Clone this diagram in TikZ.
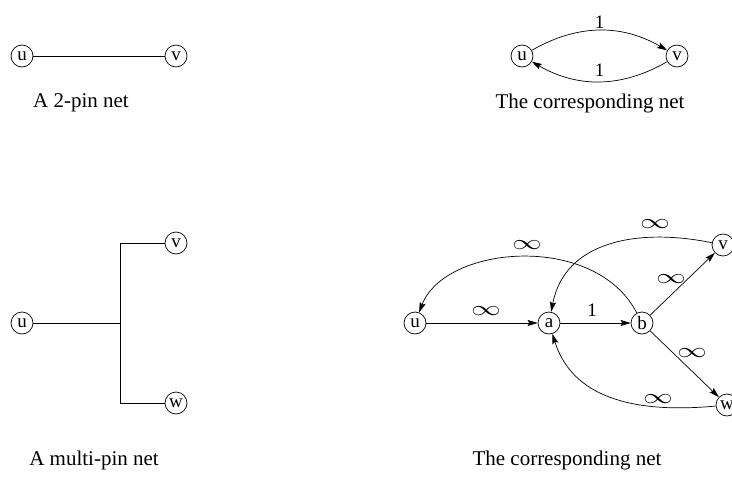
\documentclass[tikz,border=0pt]{standalone}
\usepackage{fontspec}
\setmainfont{Liberation Serif}
\usetikzlibrary{arrows.meta}
\begin{document}
\begin{tikzpicture}[x=1pt,y=-1pt,
  pin/.style={circle,draw,line width=0.7pt,minimum size=22pt,inner sep=0pt,font=\fontsize{19}{19}\selectfont},
  wire/.style={line width=0.7pt},
  edgearr/.style={line width=0.7pt,-{Stealth[length=10pt,width=6pt,inset=1.5pt]}},
  captxt/.style={font=\fontsize{21}{21}\selectfont},
  lbl/.style={font=\fontsize{19}{19}\selectfont,inner sep=2pt},
  inf/.style={inner sep=1pt}]
\useasboundingbox (0,0) rectangle (732,477);
\clip (0,0) rectangle (732,477);
\newcommand{\infsym}{\scalebox{1.7}[1.2]{\fontsize{17}{17}\selectfont$\infty$}}
% top left
\node[pin] (u1) at (22,56) {u};
\node[pin] (v1) at (176,56) {v};
\draw[wire] (u1) -- (v1);
\node[captxt] (c1) at (81,103) {A 2-pin net};
% top right
\node[pin] (u2) at (522,56) {u};
\node[pin] (v2) at (677,56) {v};
\draw[edgearr] (u2) to[out=30,in=150] node[lbl,above] {1} (v2);
\draw[edgearr] (v2) to[out=-150,in=-30] node[lbl,above=3pt] {1} (u2);
\node[captxt] (c2) at (590,103) {The corresponding net};
% bottom left
\node[pin] (u3) at (22,323) {u};
\node[pin] (v3) at (176,243) {v};
\node[pin] (w3) at (176,403) {w};
\coordinate (j) at (120,323);
\coordinate (jv) at (120,243);
\coordinate (jw) at (120,403);
\draw[wire] (u3) -- (j);
\draw[wire] (v3) -- (jv) -- (jw) -- (w3);
\node[captxt] (c3) at (94,460) {A multi-pin net};
% bottom right
\node[pin] (u4) at (415,323) {u};
\node[pin] (a4) at (549,323) {a};
\node[pin] (b4) at (642,323) {b};
\node[pin] (v4) at (723,245) {v};
\node[pin] (w4) at (727,405) {w};
\draw[edgearr] (u4) -- (a4);
\draw[edgearr] (a4) -- (b4);
\draw[edgearr] (b4) -- (v4);
\draw[edgearr] (b4) -- (w4);
\draw[edgearr] (b4) .. controls (595,232) and (445,245) .. (u4);
\draw[edgearr] (v4) .. controls (640,228) and (565,240) .. (a4);
\draw[edgearr] (w4) .. controls (620,415) and (570,390) .. (a4);
\node[inf] (l1) at (486,311) {\infsym};
\node[lbl] (l2) at (592,310) {1};
\node[inf] (l3) at (527,245) {\infsym};
\node[inf] (l4) at (655,224) {\infsym};
\node[inf] (l5) at (671,279) {\infsym};
\node[inf] (l6) at (692,353) {\infsym};
\node[inf] (l7) at (658,399) {\infsym};
\node[captxt] (c4) at (567,460) {The corresponding net};
\end{tikzpicture}
\end{document}
